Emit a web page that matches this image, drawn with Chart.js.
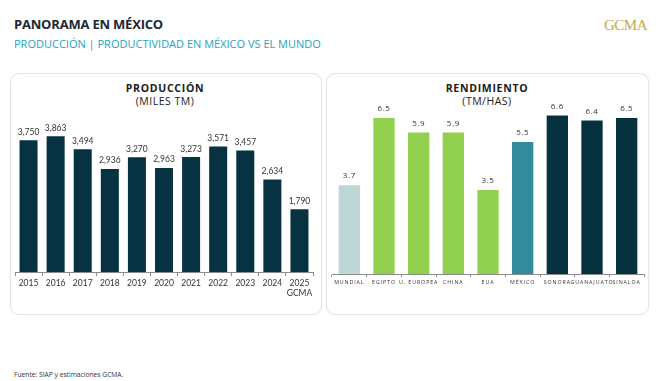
<!DOCTYPE html>
<html>
<head>
<meta charset="utf-8">
<script src="https://cdn.jsdelivr.net/npm/chart.js@4"></script>
<style>
  body { margin: 0; width: 665px; height: 381px; background: #fff; position: relative; overflow: hidden; font-family: 'Open Sans', sans-serif; }
  .abs { position: absolute; white-space: nowrap; }
  .panel { position: absolute; border: 1px solid #e3e3e3; border-radius: 9px; box-shadow: 0 0 2px rgba(0,0,0,0.06); box-sizing: border-box; }
  .ptitle { position: absolute; text-align: center; color: #1a1a1a; font-size: 10.5px; line-height: 13px; letter-spacing: 0.5px; }
  canvas { position: absolute; }
</style>
</head>
<body>
<div class="abs" style="left:14px; top:15px; font-size:13px; font-weight:700; color:#1c2833; letter-spacing:-0.2px;">PANORAMA EN MÉXICO</div>
<div class="abs" style="left:14px; top:36px; font-size:11px; color:#27a2c2;">PRODUCCIÓN | PRODUCTIVIDAD EN MÉXICO VS EL MUNDO</div>
<div class="abs" style="left:604px; top:17px; font-family:'Liberation Serif', serif; font-size:15px; color:#c9a54c; letter-spacing:-0.5px;">GCMA</div>

<div class="panel" style="left:10px; top:73px; width:312px; height:242px;"></div>
<div class="panel" style="left:326px; top:73px; width:323px; height:242px;"></div>

<div class="ptitle" style="left:10px; width:310px; top:82px;"><b style="letter-spacing:0.7px;">PRODUCCIÓN</b><br>(MILES TM)</div>
<div class="ptitle" style="left:326px; width:322px; top:82px;"><b style="letter-spacing:0.7px;">RENDIMIENTO</b><br>(TM/HAS)</div>

<canvas id="prodChart" width="312" height="242" style="left:10px; top:73px;"></canvas>
<canvas id="rendChart" width="323" height="242" style="left:326px; top:73px;"></canvas>

<div class="abs" style="left:14px; top:370px; font-size:6.7px; color:#333;">Fuente: SIAP y estimaciones GCMA.</div>

<script>
// datos
const years = ['2015', '2016', '2017', '2018', '2019', '2020', '2021', '2022', '2023', '2024', ['2025', 'GCMA']];
const produccion = [3750, 3863, 3494, 2936, 3270, 2963, 3273, 3571, 3457, 2634, 1790];

const regiones = ['MUNDIAL', 'EGIPTO', 'U. EUROPEA', 'CHINA', 'EUA', 'MÉXICO', 'SONORA', 'GUANAJUATO', 'SINALOA'];
const rendimiento = [3.7, 6.5, 5.9, 5.9, 3.5, 5.5, 6.6, 6.4, 6.5];

const rendColors = ['#bdd7d7', '#92d050', '#92d050', '#92d050', '#92d050', '#318b9b', '#06323f', '#06323f', '#06323f'];

// etiquetas de valor sobre cada barra
const valueLabels = {
  id: 'valueLabels',
  beforeDraw(chart, args, opts) {
    chart.ctx.letterSpacing = opts.tickSpacing || '0px';
  },
  afterDatasetsDraw(chart, args, opts) {
    const ctx = chart.ctx;
    const values = chart.data.datasets[0].data;
    chart.getDatasetMeta(0).data.forEach((bar, i) => {
      const v = values[i];
      const txt = opts.decimals ? v.toFixed(opts.decimals) : v.toLocaleString('en-US');
      ctx.save();
      ctx.letterSpacing = opts.spacing || '0px';
      ctx.font = opts.font;
      ctx.fillStyle = opts.color;
      ctx.textAlign = 'center';
      ctx.textBaseline = 'bottom';
      ctx.fillText(txt, bar.x, bar.y - opts.offset);
      ctx.restore();
    });
  }
};

new Chart(document.getElementById('prodChart'), {
  type: 'bar',
  data: {
    labels: years,
    datasets: [{
      data: produccion,
      backgroundColor: '#063242',
      categoryPercentage: 1,
      barPercentage: 0.665
    }]
  },
  options: {
    responsive: false,
    animation: false,
    layout: { padding: { left: 5, right: 9, top: 41, bottom: 13 } },
    scales: {
      x: {
        grid: { offset: true, drawOnChartArea: false, drawTicks: true, tickLength: 4, color: '#8c8c8c' },
        border: { color: '#8c8c8c' },
        ticks: { color: '#333', font: { family: 'Lato', size: 8.5 }, padding: 2, maxRotation: 0, autoSkip: false },
        afterFit(scale) { scale.height = 30; }
      },
      y: { display: false, min: 0, max: 4500 }
    },
    plugins: {
      legend: { display: false },
      tooltip: { enabled: false },
      valueLabels: { font: '8.5px Lato', color: '#333', offset: 4 }
    }
  },
  plugins: [valueLabels]
});

new Chart(document.getElementById('rendChart'), {
  type: 'bar',
  data: {
    labels: regiones,
    datasets: [{
      data: rendimiento,
      backgroundColor: rendColors,
      categoryPercentage: 1,
      barPercentage: 0.615
    }]
  },
  options: {
    responsive: false,
    animation: false,
    layout: { padding: { left: 6, right: 5, top: 21, bottom: 16 } },
    scales: {
      x: {
        grid: { offset: true, drawOnChartArea: false, drawTicks: true, tickLength: 3, color: '#8c8c8c' },
        border: { color: '#8c8c8c' },
        ticks: { color: '#333', font: { family: 'Open Sans', size: 5.3 }, padding: 2, maxRotation: 0, autoSkip: false },
        afterFit(scale) { scale.height = 25; }
      },
      y: { display: false, min: 0, max: 7.5 }
    },
    plugins: {
      legend: { display: false },
      tooltip: { enabled: false },
      valueLabels: { font: '8px Open Sans', color: '#333', offset: 5, decimals: 1, spacing: '0.6px', tickSpacing: '0.9px' }
    }
  },
  plugins: [valueLabels]
});
</script>
</body>
</html>
